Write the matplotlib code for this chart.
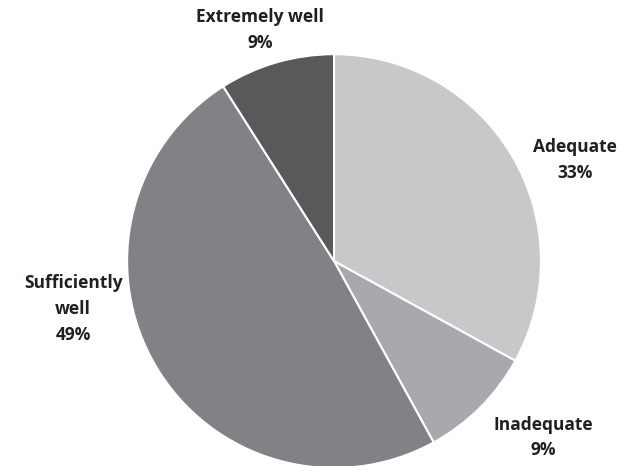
import matplotlib
matplotlib.use("Agg")
import matplotlib.pyplot as plt

categories = ["Adequate", "Inadequate", "Sufficiently well", "Extremely well"]
shares = [33, 9, 49, 9]
colors = ["#c7c8ca", "#a7a9ac", "#808285", "#58595b"]
label_text = ["Adequate", "Inadequate", "Sufficiently\nwell", "Extremely well"]
label_pos = [(1.164, 0.490), (1.010, -0.853), (-1.261, -0.232), (-0.357, 1.118)]

plt.rcParams["font.family"] = ["Open Sans", "DejaVu Sans"]

fig = plt.figure(figsize=(6.23, 4.66), dpi=100)
ax = fig.add_axes([0.2039, -0.0043, 0.6645, 0.888])
ax.pie(shares, colors=colors, startangle=90, counterclock=False, radius=1,
       wedgeprops=dict(edgecolor="white", linewidth=1.5))
ax.set_xlim(-1, 1)
ax.set_ylim(-1, 1)
ax.set_aspect("equal")
ax.axis("off")

for name, val, (x, y) in zip(label_text, shares, label_pos):
    ax.text(x, y, f"{name}\n{val}%", ha="center", va="center", fontsize=12.5,
            fontweight="bold", color="#231f20", linespacing=1.55, clip_on=False)

fig.savefig("out.png", dpi=100)
